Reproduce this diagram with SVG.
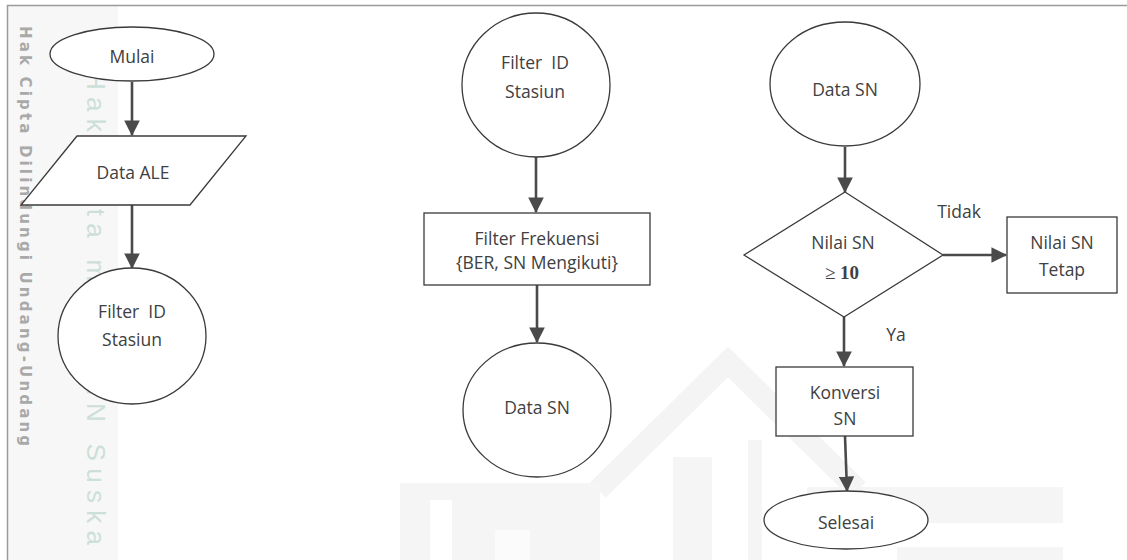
<svg xmlns="http://www.w3.org/2000/svg" width="1127" height="560" viewBox="0 0 1127 560">
  <defs>
    <marker id="arrow" markerWidth="6" markerHeight="6" refX="5.6" refY="3" orient="auto" markerUnits="strokeWidth">
      <path d="M0,0 L6,3 L0,6 Z" fill="#4a4a4a"/>
    </marker>
    <style>
      .shape { fill: #ffffff; stroke: #3a3a3a; stroke-width: 1.3; }
      .lbl { font-family: "Open Sans", "Liberation Sans", sans-serif; font-size: 17.5px; fill: #404040; text-anchor: middle; }
      .conn { stroke: #4a4a4a; stroke-width: 2.6; fill: none; marker-end: url(#arrow); }
      .wm { fill: #f5f5f5; }
    </style>
  </defs>

  <rect x="0" y="0" width="1127" height="560" fill="#ffffff"/>

  <!-- faint background emblem -->
  <g id="emblem">
    <polyline points="598,490 728,362 858,490" fill="none" stroke="#f4f4f4" stroke-width="22"/>
    <rect class="wm" x="400" y="483" width="200" height="77"/>
    <rect x="430" y="500" width="22" height="60" fill="#ffffff"/>
    <rect x="495" y="530" width="35" height="30" fill="#fbfbfb"/>
    <rect class="wm" x="673" y="457" width="39" height="103"/>
    <rect class="wm" x="748" y="440" width="14" height="120"/>
    <rect class="wm" x="807" y="487" width="256" height="36"/>
    <rect class="wm" x="897" y="547" width="166" height="13"/>
  </g>

  <!-- left margin band and page frame -->
  <rect x="8" y="6" width="110" height="554" fill="#f7f7f7"/>
  <line x1="7" y1="5.5" x2="1127" y2="5.5" stroke="#9a9a9a" stroke-width="1.5"/>
  <line x1="7.5" y1="5" x2="7.5" y2="560" stroke="#9a9a9a" stroke-width="1.5"/>

  <!-- margin notices -->
  <text transform="translate(20,26) rotate(90)" font-family="DejaVu Sans, sans-serif" font-weight="bold" font-size="15" fill="#a9a9a9" textLength="420" lengthAdjust="spacing">Hak Cipta Dilindungi Undang-Undang</text>
  <text transform="translate(87,30) rotate(90)" font-family="Liberation Sans, sans-serif" font-size="26" fill="#cddfd9" textLength="515" lengthAdjust="spacing">© Hak cipta milik UIN Suska</text>

  <!-- connectors -->
  <g id="connectors">
    <line class="conn" x1="132" y1="82" x2="132" y2="135"/>
    <line class="conn" x1="132" y1="205" x2="132" y2="268"/>
    <line class="conn" x1="536" y1="157" x2="536" y2="212"/>
    <line class="conn" x1="537" y1="285" x2="537" y2="342"/>
    <line class="conn" x1="845" y1="147" x2="845" y2="192"/>
    <line class="conn" x1="943" y1="255" x2="1006" y2="255"/>
    <line class="conn" x1="844" y1="317" x2="844" y2="366"/>
    <line class="conn" x1="845" y1="436" x2="847" y2="491"/>
    <text class="lbl" x="959" y="218">Tidak</text>
    <text class="lbl" x="896" y="341">Ya</text>
  </g>

  <!-- column 1 -->
  <g id="mulai">
    <ellipse class="shape" cx="132" cy="54" rx="82" ry="27"/>
    <text class="lbl" x="132" y="63">Mulai</text>
  </g>
  <g id="data-ale">
    <polygon class="shape" points="77,136 246,136 190,205 21,205"/>
    <text class="lbl" x="133" y="179">Data ALE</text>
  </g>
  <g id="filter-id-1">
    <ellipse class="shape" cx="132" cy="336" rx="74" ry="68"/>
    <text class="lbl" x="132" y="318" xml:space="preserve">Filter  ID</text>
    <text class="lbl" x="132" y="346">Stasiun</text>
  </g>

  <!-- column 2 -->
  <g id="filter-id-2">
    <ellipse class="shape" cx="536" cy="85" rx="74" ry="72"/>
    <text class="lbl" x="535" y="69" xml:space="preserve">Filter  ID</text>
    <text class="lbl" x="535" y="98">Stasiun</text>
  </g>
  <g id="filter-frekuensi">
    <rect class="shape" x="424" y="213" width="226" height="72"/>
    <text class="lbl" x="537" y="245">Filter Frekuensi</text>
    <text class="lbl" x="537" y="269">{BER, SN Mengikuti}</text>
  </g>
  <g id="data-sn-1">
    <ellipse class="shape" cx="537" cy="410" rx="74" ry="67"/>
    <text class="lbl" x="537" y="414">Data SN</text>
  </g>

  <!-- column 3 -->
  <g id="data-sn-2">
    <ellipse class="shape" cx="845" cy="84" rx="75" ry="62"/>
    <text class="lbl" x="845" y="96">Data SN</text>
  </g>
  <g id="decision">
    <polygon class="shape" points="845,192 943,255 844,317 744,255"/>
    <text class="lbl" x="843" y="249">Nilai SN</text>
    <text x="842" y="279" font-family="Liberation Serif, serif" font-size="19" fill="#404040" text-anchor="middle">≥ <tspan font-weight="bold">10</tspan></text>
  </g>
  <g id="nilai-tetap">
    <rect class="shape" x="1007" y="217" width="110" height="76"/>
    <text class="lbl" x="1062" y="249">Nilai SN</text>
    <text class="lbl" x="1062" y="276">Tetap</text>
  </g>
  <g id="konversi">
    <rect class="shape" x="776" y="367" width="137" height="69"/>
    <text class="lbl" x="845" y="399">Konversi</text>
    <text class="lbl" x="845" y="425">SN</text>
  </g>
  <g id="selesai">
    <ellipse class="shape" cx="846" cy="520" rx="82" ry="29"/>
    <text class="lbl" x="846" y="529">Selesai</text>
  </g>
</svg>
